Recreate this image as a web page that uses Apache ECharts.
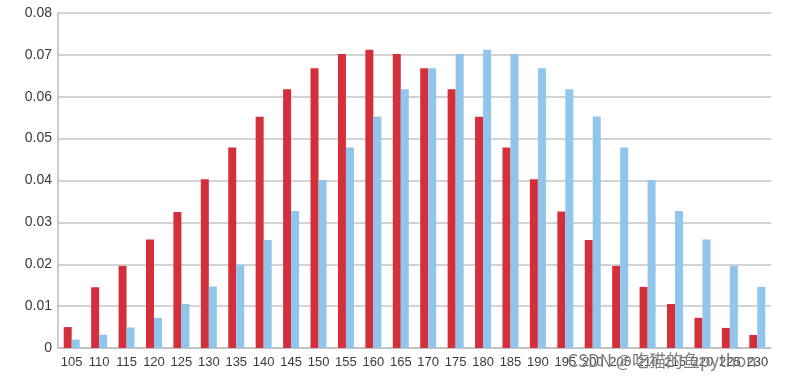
<!DOCTYPE html>
<html>
<head>
<meta charset="utf-8">
<script src="https://cdn.jsdelivr.net/npm/echarts@6/dist/echarts.min.js"></script>
<style>html,body{margin:0;padding:0;background:#fff;}#c{width:787px;height:381px;}</style>
</head>
<body>
<div id="c"></div>
<script>
var categories = ['105','110','115','120','125','130','135','140','145','150','155','160','165','170','175','180','185','190','195','200','205','210','215','220','225','230'];
var redValues = [0.0050,0.0145,0.0196,0.0259,0.0325,0.0403,0.0479,0.0552,0.0618,0.0668,0.0702,0.0712,0.0702,0.0668,0.0618,0.0552,0.0479,0.0403,0.0326,0.0258,0.0196,0.0146,0.0105,0.0072,0.0048,0.0031];
var blueValues = [0.0020,0.0032,0.0049,0.0072,0.0105,0.0147,0.0198,0.0258,0.0327,0.0401,0.0479,0.0553,0.0618,0.0668,0.0702,0.0712,0.0702,0.0668,0.0618,0.0553,0.0479,0.0401,0.0327,0.0259,0.0196,0.0146];
var yTicks = ['0','0.01','0.02','0.03','0.04','0.05','0.06','0.07','0.08'];

var chart = echarts.init(document.getElementById('c'), null, {renderer: 'canvas'});
chart.setOption({
  animation: false,
  backgroundColor: '#ffffff',
  grid: {left: 58, right: 16, top: 13, bottom: 33, containLabel: false},
  xAxis: {
    type: 'category',
    data: categories,
    axisLine: {show: true, lineStyle: {color: '#bdbdbd', width: 1.5}},
    axisTick: {show: false},
    axisLabel: {interval: 0, margin: 8, color: '#3a3a3a', fontSize: 13, fontFamily: 'Liberation Sans, Arial, sans-serif'}
  },
  yAxis: {
    type: 'value',
    min: 0, max: 0.08, interval: 0.01,
    axisLine: {show: true, lineStyle: {color: '#bdbdbd', width: 1.5}},
    axisTick: {show: false},
    splitLine: {show: true, lineStyle: {color: '#c4c4c4', width: 1.5}},
    axisLabel: {margin: 6, color: '#3a3a3a', fontSize: 14, fontFamily: 'Liberation Sans, Arial, sans-serif',
      formatter: function (v) { return yTicks[Math.round(v * 100)]; }}
  },
  series: [
    {type: 'bar', data: redValues, barWidth: 8, barGap: '0%', itemStyle: {color: '#d4303b'}},
    {type: 'bar', data: blueValues, barWidth: 8, barGap: '0%', itemStyle: {color: '#92c5ec'}}
  ],
  graphic: [{
    type: 'text', left: 567, top: 352, z: 100,
    style: {text: 'CSDN @吃猫的鱼python', fill: 'rgba(90,90,90,0.8)', fontSize: 17,
      fontFamily: 'Noto Sans CJK SC, sans-serif', stroke: 'rgba(255,255,255,0.5)', lineWidth: 1}
  }]
});
</script>
</body>
</html>
